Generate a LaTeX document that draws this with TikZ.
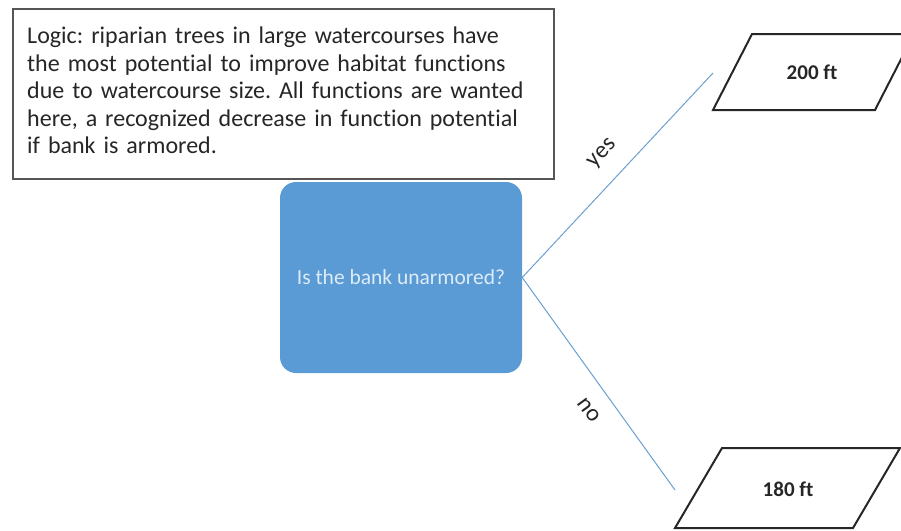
\documentclass[tikz,border=0pt]{standalone}
\usepackage{fontspec}
\setmainfont{Carlito}[Ligatures=NoCommon]
\definecolor{officeblue}{HTML}{5B9BD5}
\definecolor{linkblue}{HTML}{6A9FD0}
\definecolor{boxgray}{HTML}{555555}
\definecolor{qtext}{HTML}{DDEBF7}
\tikzset{
  logicbox/.style={draw=boxgray, line width=2pt, anchor=north west, minimum width=541pt, minimum height=170pt},
  logictext/.style={anchor=north west, inner sep=0pt, text width=520pt, align=left, font=\fontsize{24}{27.5}\selectfont, text=black!85},
  questionbox/.style={fill=officeblue, rounded corners=16pt, minimum width=242pt, minimum height=191pt, text=qtext, font=\fontsize{21.5}{24}\selectfont},
  para/.style={draw=black!85, line width=2pt},
  paratext/.style={font=\bfseries\fontsize{21}{24}\selectfont, text=black!85},
  conn/.style={draw=linkblue, line width=1pt},
  edgelabel/.style={font=\fontsize{24}{27}\selectfont, text=black!85}
}
\begin{document}
\frenchspacing
\begin{tikzpicture}[x=1pt,y=-1pt]
\useasboundingbox (0,0) rectangle (901,530);
\clip (0,0) rectangle (901,530);
\node[logicbox] (logic) at (12,8) {};
\node[logictext] (logictxt) at (27,27) {Logic: riparian trees in large watercourses have\\the most potential to improve habitat functions\\due to watercourse size. All functions are wanted\\here, a recognized decrease in function potential\\if bank is armored.};
\node[questionbox] (q) at (401,277.5) {Is the bank unarmored?};
% parallelogram outcomes
\draw[para] (752,34) -- (914,34) -- (875,110) -- (713,110) -- cycle;
\node[paratext] (p200) at (812,72) {200 ft};
\draw[para] (722,448) -- (900,448) -- (853,528) -- (675,528) -- cycle;
\node[paratext] (p180) at (788,489) {180 ft};
\coordinate (yesend) at (713,73);
\coordinate (noend) at (675,490);
\draw[conn] (q.east) -- (yesend);
\draw[conn] (q.east) -- (noend);
\node[edgelabel, rotate=47] (yes) at (603,154) {yes};
\node[edgelabel, rotate=-54] (no) at (589,410) {no};
\end{tikzpicture}
\end{document}
